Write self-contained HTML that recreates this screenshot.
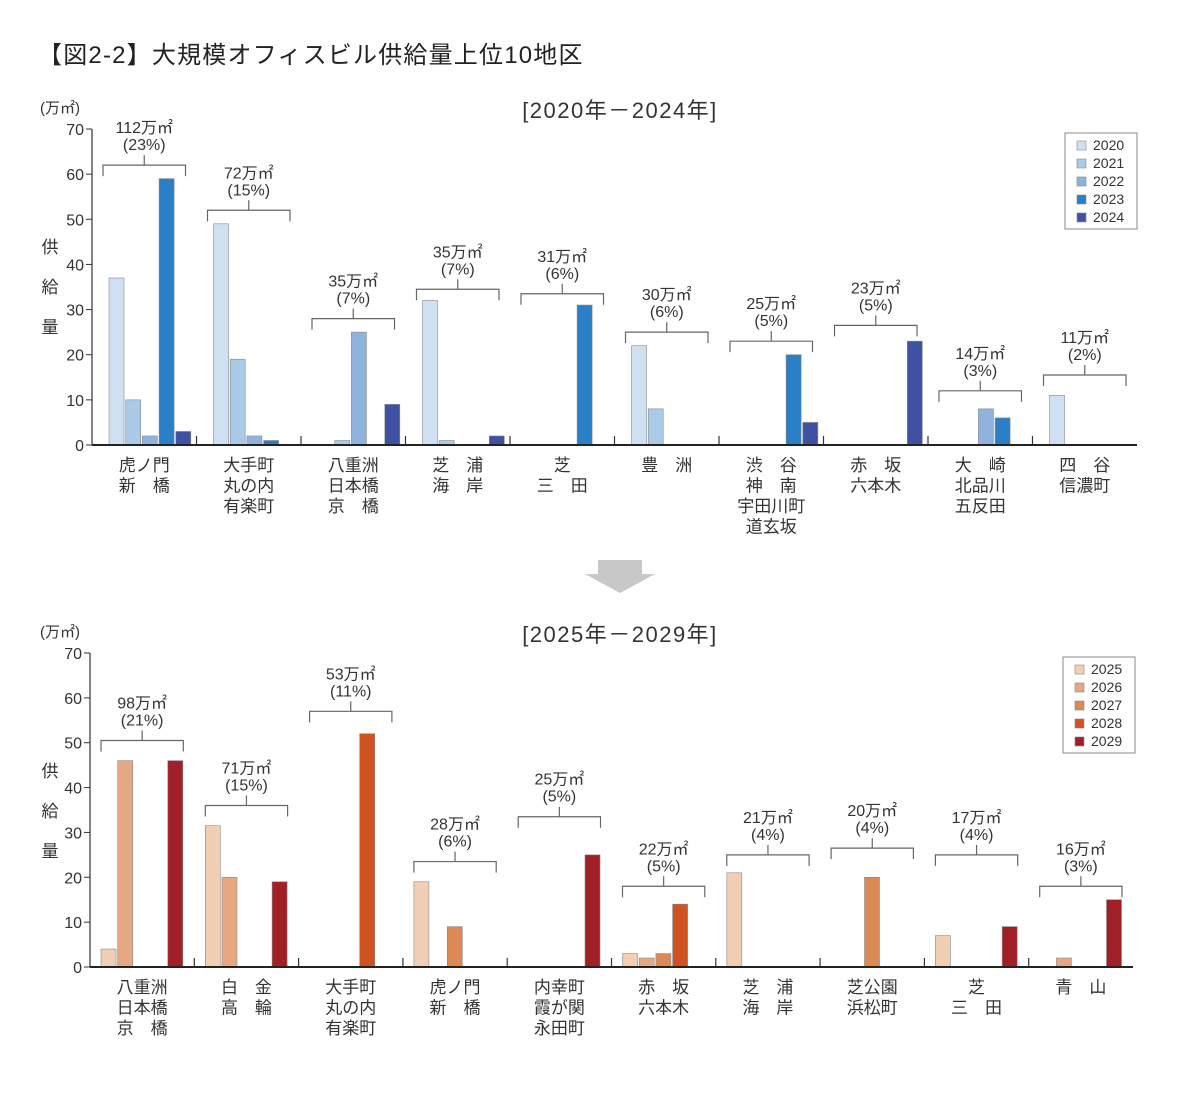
<!DOCTYPE html>
<html><head><meta charset="utf-8">
<style>
body{margin:0;background:#fff;}
svg text{font-family:"Liberation Sans","Noto Sans CJK JP",sans-serif;fill:#333;}
</style></head>
<body>
<svg id="chart" width="1200" height="1102" viewBox="0 0 1200 1102" xmlns="http://www.w3.org/2000/svg">
<text x="38" y="63" font-size="24" letter-spacing="1.2" style="fill:#222">【図2-2】大規模オフィスビル供給量上位10地区</text>
<polygon points="598,560 642,560 642,574 655,574 620,593 585,574 598,574" fill="#c8c8c8"/>
</svg>
<script>
const topYears=["2020","2021","2022","2023","2024"];
const topCats=[["虎ノ門","新　橋"],["大手町","丸の内","有楽町"],["八重洲","日本橋","京　橋"],["芝　浦","海　岸"],["芝","三　田"],["豊　洲"],["渋　谷","神　南","宇田川町","道玄坂"],["赤　坂","六本木"],["大　崎","北品川","五反田"],["四　谷","信濃町"]];
const topVals=[[37,10,2,59,3],[49,19,2,1,0],[0,1,25,0,9],[32,1,0,0,2],[0,0,0,31,0],[22,8,0,0,0],[0,0,0,20,5],[0,0,0,0,23],[0,0,8,6,0],[11,0,0,0,0]];
const topTotals=["112万㎡","72万㎡","35万㎡","35万㎡","31万㎡","30万㎡","25万㎡","23万㎡","14万㎡","11万㎡"];
const topShares=["(23%)","(15%)","(7%)","(7%)","(6%)","(6%)","(5%)","(5%)","(3%)","(2%)"];
const topBracketVal=[62,52,28,34.5,33.5,25,23,26.5,12,15.5];
const botYears=["2025","2026","2027","2028","2029"];
const botCats=[["八重洲","日本橋","京　橋"],["白　金","高　輪"],["大手町","丸の内","有楽町"],["虎ノ門","新　橋"],["内幸町","霞が関","永田町"],["赤　坂","六本木"],["芝　浦","海　岸"],["芝公園","浜松町"],["芝","三　田"],["青　山"]];
const botVals=[[4,46,0,0,46],[31.5,20,0,0,19],[0,0,0,52,0],[19,0,9,0,0],[0,0,0,0,25],[3,2,3,14,0],[21,0,0,0,0],[0,0,20,0,0],[7,0,0,0,9],[0,2,0,0,15]];
const botTotals=["98万㎡","71万㎡","53万㎡","28万㎡","25万㎡","22万㎡","21万㎡","20万㎡","17万㎡","16万㎡"];
const botShares=["(21%)","(15%)","(11%)","(6%)","(5%)","(5%)","(4%)","(4%)","(4%)","(3%)"];
const botBracketVal=[50.5,36,57,23.5,33.5,18,25,26.5,25,18];
const yTicks=[0,10,20,30,40,50,60,70];
const NS="http://www.w3.org/2000/svg";
const svg=document.getElementById('chart');
function mk(tag,attrs,parent){const e=document.createElementNS(NS,tag);for(const k in attrs)e.setAttribute(k,attrs[k]);(parent||svg).appendChild(e);return e;}
function txt(s,x,y,size,anchor,parent){const t=mk('text',{x:x,y:y,'font-size':size,'text-anchor':anchor||'middle'},parent);t.textContent=s;return t;}
function drawChart(o){
  const g=mk('g',{});
  
  
  const y=v=>o.y0-(v/70)*(o.y0-o.y70);
  const gw=(o.x1-o.x0)/o.cats.length;
  const sub=txt(o.sub,620,o.subY,22,'middle',g);
  sub.setAttribute('letter-spacing','1.5');
  
  
  const u=txt('(万㎡)',40,o.y70-16,15,'start',g);
  
  
  ['供','給','量'].forEach((c,i)=>{const t=txt(c,50,o.y70+124+i*40,17,'middle',g);
    
    });
  yTicks.forEach(v=>{
    mk('line',{x1:o.x0-6,x2:o.x0,y1:y(v),y2:y(v),stroke:'#333','stroke-width':1},g);
    const t=txt(String(v),o.x0-8,y(v)+6,16,'end',g);
    
    
  });
  o.vals.forEach((vals,gi)=>{
    const gx=o.x0+gi*gw;
    vals.forEach((v,si)=>{
      if(v<=0)return;
      const r=mk('rect',{x:gx+o.off+si*16.7,y:y(v),width:15,height:o.y0-y(v),fill:o.colors[si],stroke:'#888','stroke-width':0.6},g);
      
      
    });
    const by=y(o.bracket[gi]);const bl=gx+11,br=gx+gw-11,bc=(bl+br)/2;
    const p=mk('path',{d:`M${bl},${by+11}V${by}H${br}V${by+11}M${bc},${by}V${by-10}`,fill:'none',stroke:'#666','stroke-width':1.2},g);
    
    
    const t1=txt(o.totals[gi],bc,by-32,16,'middle',g);
    
    
    const t2=txt(o.shares[gi],bc,by-15,16,'middle',g);
    
    
    if(gi>0)mk('line',{x1:gx,x2:gx,y1:o.y0,y2:o.y0-9,stroke:'#333','stroke-width':1.2},g);
    o.cats[gi].forEach((c,li)=>{const t=txt(c,gx+gw/2,o.y0+26+li*20.5,17,'middle',g);
      
      });
  });
  mk('line',{x1:o.x0,x2:o.x0,y1:o.y70,y2:o.y0,stroke:'#333','stroke-width':1.2},g);
  mk('line',{x1:o.x0,x2:o.x1,y1:o.y0,y2:o.y0,stroke:'#222','stroke-width':2},g);
  const lg=mk('g',{},g);
  
  
  mk('rect',{x:o.lx,y:o.ly,width:72,height:96,fill:'#fff',stroke:'#888','stroke-width':1},lg);
  o.years.forEach((yr,i)=>{
    mk('rect',{x:o.lx+12,y:o.ly+8+i*18,width:9,height:9,fill:o.colors[i],stroke:'#888','stroke-width':0.6},lg);
    const t=txt(yr,o.lx+28,o.ly+17+i*18,14,'start',lg);
    
    
  });
}
drawChart({name:'chart-2020-2024',sub:'[2020年－2024年]',subY:118,x0:92,x1:1137,y0:445,y70:129,off:17,cats:topCats,vals:topVals,totals:topTotals,shares:topShares,bracket:topBracketVal,years:topYears,colors:['#cfe0f3','#a9cbe8','#8fb2de','#2a7fc6','#3f51a3'],lx:1065,ly:133});
drawChart({name:'chart-2025-2029',sub:'[2025年－2029年]',subY:642,x0:90,x1:1133,y0:967,y70:653,off:11,cats:botCats,vals:botVals,totals:botTotals,shares:botShares,bracket:botBracketVal,years:botYears,colors:['#f0cfb4','#e6a882','#dc8a55','#cf5220','#a11f26'],lx:1063,ly:657});
</script>
</body></html>
